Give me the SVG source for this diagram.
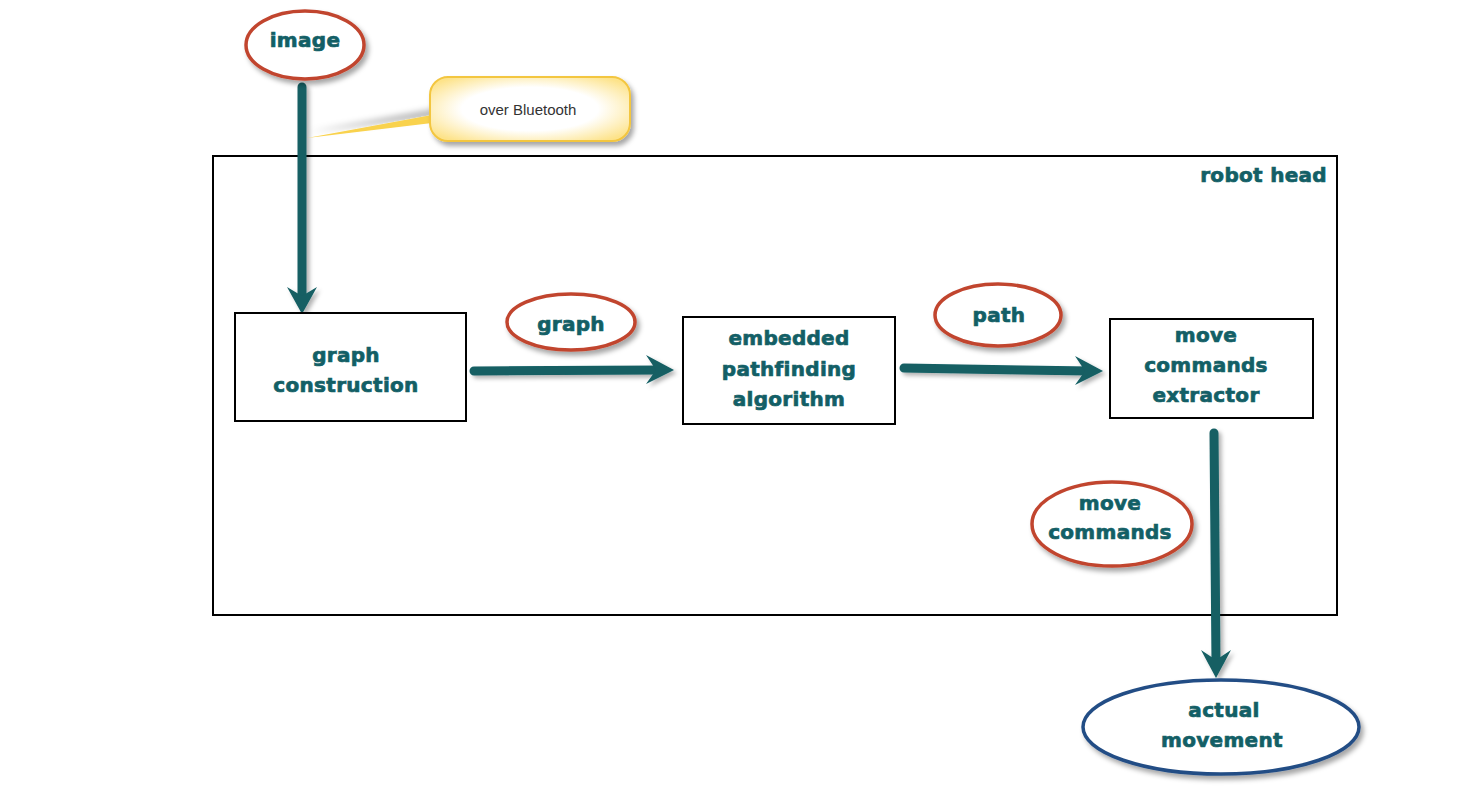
<svg xmlns="http://www.w3.org/2000/svg" width="1466" height="797" viewBox="0 0 1466 797">
<defs>
<filter id="sh" x="-20%" y="-20%" width="150%" height="150%">
<feDropShadow dx="3" dy="4" stdDeviation="2.5" flood-color="#000" flood-opacity="0.35"/>
</filter>
<filter id="shA" x="-20%" y="-20%" width="150%" height="150%">
<feDropShadow dx="3" dy="3" stdDeviation="2" flood-color="#000" flood-opacity="0.3"/>
</filter>
<filter id="shP" x="-20%" y="-100%" width="150%" height="300%">
<feDropShadow dx="2" dy="-6" stdDeviation="3" flood-color="#000" flood-opacity="0.3"/>
</filter>
<radialGradient id="glow" cx="50%" cy="50%" r="62%">
<stop offset="0.55" stop-color="#ffffff"/>
<stop offset="1" stop-color="#fde38a"/>
</radialGradient>
</defs>
<style>
.box{fill:#fff;stroke:#000;stroke-width:2}
.red{fill:#fff;stroke:#c1452f;stroke-width:3.5}
.blue{fill:#fff;stroke:#234d85;stroke-width:3.5}
.t{font-family:"DejaVu Sans",Verdana,sans-serif;font-weight:bold;font-size:20px;fill:#135f66;stroke:#135f66;stroke-width:0.7;text-anchor:middle;letter-spacing:0.3px}
.shaft{stroke:#135e63;stroke-width:9;stroke-linecap:round;fill:none}
.head{fill:#135e63}
</style>
<rect id="robot-head" x="213" y="156" width="1124" height="459" fill="none" stroke="#000" stroke-width="2"/>
<text class="t" x="1327" y="182" style="text-anchor:end">robot head</text>

<g id="connectors" filter="url(#shA)">
<line class="shaft" x1="302" y1="87" x2="302" y2="298"/>
<path class="head" d="M302,314 L287,287 L302,296 L317,287 Z"/>
<line class="shaft" x1="474" y1="371" x2="660" y2="370"/>
<path class="head" d="M674,370 L646,355 L656,370 L646,384 Z"/>
<line class="shaft" x1="904" y1="368" x2="1090" y2="371"/>
<path class="head" d="M1103,371 L1075,356 L1085,371 L1075,385 Z"/>
<line class="shaft" x1="1214" y1="433" x2="1216" y2="662"/>
<path class="head" d="M1216,678 L1201,650 L1216,660 L1231,650 Z"/>
</g>

<g id="callout">
<path d="M432,115 L307,138 L432,123 Z" fill="#f9d24d" filter="url(#shP)"/>
<rect x="430" y="77" width="200" height="64" rx="18" fill="url(#glow)" stroke="#f3c640" stroke-width="2" filter="url(#sh)"/>
<text x="528" y="115" font-family="Liberation Sans,Arial,sans-serif" font-size="15" fill="#333" text-anchor="middle">over Bluetooth</text>
</g>

<g id="image">
<ellipse class="red" cx="305" cy="45" rx="59" ry="34" filter="url(#sh)"/>
<text class="t" x="305" y="47">image</text>
</g>

<g id="graph-construction">
<rect class="box" x="235" y="313" width="231" height="108"/>
<text class="t" x="346" y="362">graph</text>
<text class="t" x="346" y="392">construction</text>
</g>

<g id="graph-label">
<ellipse class="red" cx="571" cy="322" rx="64" ry="28" filter="url(#sh)"/>
<text class="t" x="571" y="331">graph</text>
</g>

<g id="embedded">
<rect class="box" x="683" y="317" width="212" height="107"/>
<text class="t" x="789" y="345">embedded</text>
<text class="t" x="789" y="376">pathfinding</text>
<text class="t" x="789" y="406">algorithm</text>
</g>

<g id="path-label">
<ellipse class="red" cx="998" cy="315" rx="63" ry="31" filter="url(#sh)"/>
<text class="t" x="999" y="322">path</text>
</g>

<g id="extractor">
<rect class="box" x="1110" y="319" width="203" height="99"/>
<text class="t" x="1206" y="342">move</text>
<text class="t" x="1206" y="372">commands</text>
<text class="t" x="1206" y="402">extractor</text>
</g>

<g id="move-commands">
<ellipse class="red" cx="1112" cy="524" rx="80" ry="42" filter="url(#sh)"/>
<text class="t" x="1110" y="510">move</text>
<text class="t" x="1110" y="539">commands</text>
</g>

<g id="actual-movement">
<ellipse class="blue" cx="1221" cy="727" rx="138" ry="47" filter="url(#sh)"/>
<text class="t" x="1224" y="717">actual</text>
<text class="t" x="1222" y="747">movement</text>
</g>
</svg>
